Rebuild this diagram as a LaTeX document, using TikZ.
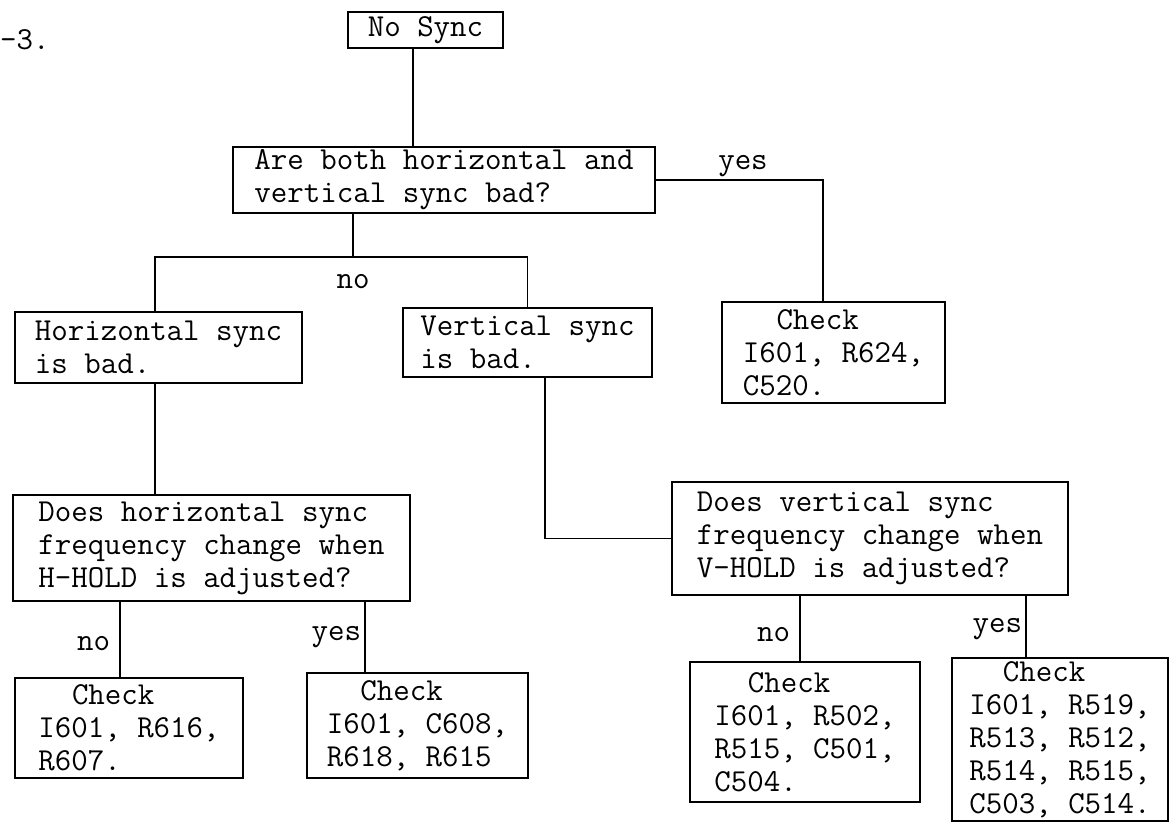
\documentclass[tikz,border=0pt]{standalone}
\begin{document}
\begin{tikzpicture}[x=1pt,y=-1pt,
    box/.style={draw, line width=1.8pt, align=left, inner xsep=0pt, inner ysep=3pt,
      font=\ttfamily\fontsize{32}{33}\selectfont},
    lbl/.style={font=\ttfamily\fontsize{32}{33}\selectfont, inner sep=3pt},
    link/.style={line width=1.8pt}]
    \useasboundingbox (0,0) rectangle (1170,823);
    \clip (0,0) rectangle (1170,823);

    \node[lbl, anchor=west, inner sep=0pt] (fig) at (0,40) {-3.};

    \node[box, minimum width=155pt, minimum height=36pt] (nosync) at (425.5,30) {No Sync};
    \node[box, minimum width=422pt, minimum height=66pt] (q1) at (444,180)
        {Are both horizontal and\\vertical sync bad?};
    \node[box, minimum width=287pt, minimum height=71pt] (hbad) at (158.5,347.5)
        {Horizontal sync\\is bad.};
    \node[box, minimum width=249pt, minimum height=69pt] (vbad) at (527.5,342.5)
        {Vertical sync\\is bad.};
    \node[box, minimum width=223pt, minimum height=101pt] (chk1) at (833.5,352.5)
        {\hspace*{33.6pt}Check\\I601, R624,\\C520.};

    \node[box, minimum width=397pt, minimum height=106pt] (q2) at (211.5,548)
        {Does horizontal sync\\frequency change when\\H-HOLD is adjusted?};
    \node[box, minimum width=396pt, minimum height=113pt] (q3) at (870,538.5)
        {Does vertical sync\\frequency change when\\V-HOLD is adjusted?};

    \node[box, minimum width=228pt, minimum height=100pt] (chk2) at (129,728)
        {\hspace*{33.6pt}Check\\I601, R616,\\R607.};
    \node[box, minimum width=221pt, minimum height=105pt] (chk3) at (417.5,725.5)
        {\hspace*{33.6pt}Check\\I601, C608,\\R618, R615};
    \node[box, minimum width=230pt, minimum height=140pt] (chk4) at (805,732)
        {\hspace*{33.6pt}Check\\I601, R502,\\R515, C501,\\C504.};
    \node[box, inner ysep=0pt, minimum width=216pt, minimum height=163pt] (chk5) at (1060,739.5)
        {\hspace*{33.6pt}Check\\I601, R519,\\R513, R512,\\R514, R515,\\C503, C514.};

    % turning points
    \coordinate (topdrop) at (413,90);
    \coordinate (yesturn) at (823,180);
    \coordinate (nofork) at (353,257);
    \coordinate (hdrop) at (155,430);
    \coordinate (vdrop) at (545,536);
    \coordinate (hno) at (120,640);
    \coordinate (hyes) at (365,640);
    \coordinate (vno) at (800,640);
    \coordinate (vyes) at (1026,640);

    \draw[link] (nosync.south -| topdrop) -- (q1.north -| topdrop);
    \draw[link] (q1.east) -- (yesturn) -- (chk1.north -| yesturn);
    \node[lbl, above] (yeslbl) at (743,180) {yes};
    \draw[link] (q1.south -| nofork) -- (nofork);
    \draw[link] (hbad.north -| hdrop) |- (nofork) -| (vbad.north);
    \node[lbl] (nolbl) at (353,282) {no};
    \draw[link] (hbad.south -| hdrop) -- (q2.north -| hdrop);
    \draw[link] (vbad.south -| vdrop) |- (q3.west);

    \draw[link] (q2.south -| hno) -- (chk2.north -| hno) node[lbl, pos=0.55, left=6pt] {no};
    \draw[link] (q2.south -| hyes) -- (chk3.north -| hyes) node[lbl, pos=0.5, left] {yes};
    \draw[link] (q3.south -| vno) -- (chk4.north -| vno) node[lbl, pos=0.6, left=6pt] {no};
    \draw[link] (q3.south -| vyes) -- (chk5.north -| vyes) node[lbl, pos=0.55, left] {yes};
\end{tikzpicture}
\end{document}
